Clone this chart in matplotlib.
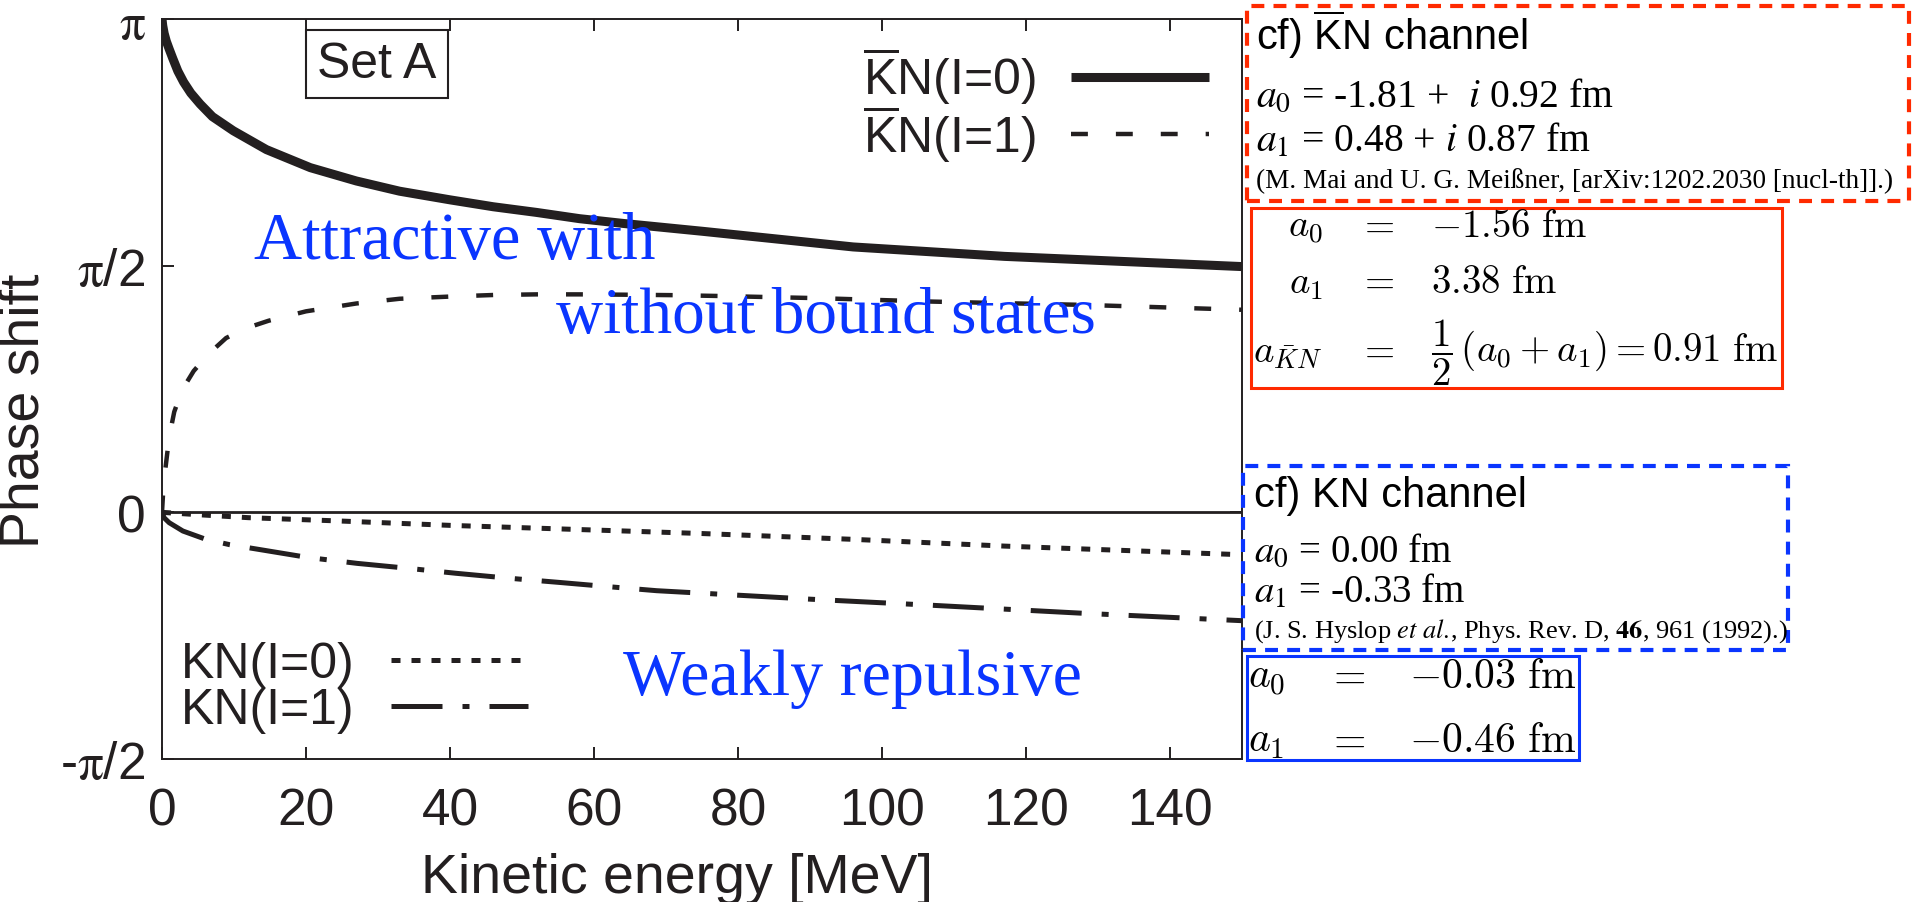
import numpy as np
import matplotlib
matplotlib.use("Agg")
import matplotlib.pyplot as plt
from matplotlib.patches import Rectangle
from matplotlib.font_manager import FontProperties

plt.rcParams['font.family'] = ['Liberation Sans', 'DejaVu Sans']
plt.rcParams['mathtext.fontset'] = 'stix'
# "custom" math font = Liberation Sans, used for the overlined K
plt.rcParams['mathtext.rm'] = 'Liberation Sans'
plt.rcParams['mathtext.it'] = 'Liberation Sans:italic'
plt.rcParams['mathtext.bf'] = 'Liberation Sans:bold'

# phase shifts (Set A)
E_kbar0 = [0, 0.1, 0.3, 0.6, 1.0, 1.5, 2.2, 3, 4, 5.3, 7, 9.9, 14.5, 20.6, 27, 33, 40, 46, 52, 58, 64, 75, 96, 117, 150]
ph_kbar0 = [3.1416, 3.10, 3.05, 3.00, 2.95, 2.89, 2.81, 2.74, 2.67, 2.60, 2.52, 2.43, 2.31, 2.195, 2.11, 2.045, 1.99, 1.946, 1.91, 1.87, 1.84, 1.79, 1.69, 1.63, 1.565]

E_kbar1 = [0, 0.15, 0.4, 1.0, 1.7, 2.8, 4.4, 6.5, 8.9, 11.5, 14.8, 20, 27, 33, 40, 46, 52, 58, 64, 71, 77, 91, 107, 128, 150]
ph_kbar1 = [0, 0.12, 0.25, 0.48, 0.64, 0.78, 0.90, 1.01, 1.11, 1.17, 1.22, 1.28, 1.33, 1.36, 1.374, 1.384, 1.388, 1.388, 1.386, 1.383, 1.378, 1.364, 1.342, 1.321, 1.29]

E_kn0 = [0, 5, 12, 24.6, 40, 65, 75, 96, 117, 150]
ph_kn0 = [0, -0.015, -0.034, -0.055, -0.083, -0.12, -0.135, -0.172, -0.215, -0.27]

E_kn1 = [0, 0.3, 1, 2.9, 6.1, 9.4, 12.9, 20.2, 27.1, 34.3, 40.8, 48.3, 55.1, 61.9, 68.7, 75, 90, 107, 128, 150]
ph_kn1 = [0, -0.035, -0.066, -0.119, -0.172, -0.206, -0.232, -0.287, -0.325, -0.357, -0.388, -0.42, -0.446, -0.473, -0.499, -0.515, -0.553, -0.592, -0.643, -0.69]

labels = [r'$\overline{\mathrm{K}}$N(I=0)', r'$\overline{\mathrm{K}}$N(I=1)', 'KN(I=0)', 'KN(I=1)']
xticks = [0, 20, 40, 60, 80, 100, 120, 140]
yticks = [-np.pi / 2, 0, np.pi / 2, np.pi]
yticklabels = [r'-$\mathrm{\pi}$/2', '0', r'$\mathrm{\pi}$/2', r'$\mathrm{\pi}$']

ink = '#231f20'
red = '#ff2a00'
blue = '#0a35ff'

W, H = 1915, 903
fig = plt.figure(figsize=(W / 100, H / 100), dpi=100)
ax = fig.add_axes([162 / W, 1 - 760 / H, 1080 / W, 740 / H])


def fx(x):
    return x / W


def fy(y):
    return 1 - y / H


l0, = ax.plot(E_kbar0, ph_kbar0, color=ink, lw=6.5, solid_capstyle='butt', solid_joinstyle='round')
l1, = ax.plot(E_kbar1, ph_kbar1, color=ink, lw=3.2, dashes=(3.8, 6.3))
l2, = ax.plot(E_kn0, ph_kn0, color=ink, lw=3.6, dashes=(1.8, 2.2))
l3, = ax.plot(E_kn1, ph_kn1, color=ink, lw=3.6, dashes=(10.2, 4, 1.4, 4))
ax.axhline(0, color=ink, lw=2)

ax.set_xlim(0, 150)
ax.set_ylim(-np.pi / 2, np.pi)
ax.set_xticks(xticks)
ax.set_yticks(yticks)
ax.set_yticklabels(yticklabels)
ax.tick_params(direction='in', length=8.6, width=1.4, top=True, right=True,
               labelsize=37, colors=ink)
ax.tick_params(axis='x', pad=20)
ax.tick_params(axis='y', pad=12)
for s in ax.spines.values():
    s.set_linewidth(1.4)
    s.set_color(ink)

ax.set_xlabel('Kinetic energy [MeV]', fontsize=40, color=ink)
ax.set_ylabel('Phase shift', fontsize=40, color=ink)
ax.xaxis.set_label_coords(0.477, -0.18)
ax.xaxis.label.set_va('baseline')
ax.yaxis.set_label_coords(-0.127, 0.472)
ax.yaxis.label.set_va('center')

legfont = FontProperties(family='Liberation Sans', size=36, math_fontfamily='custom')
leg1 = ax.legend([l0, l1], labels[:2], loc='upper right', bbox_to_anchor=(0.969, 0.965),
                 frameon=False, markerfirst=False, prop=legfont, handlelength=2.75,
                 handletextpad=0.72, labelspacing=-0.08, borderpad=0, borderaxespad=0,
                 labelcolor=ink)
ax.add_artist(leg1)
ax.legend([l2, l3], labels[2:], loc='lower left', bbox_to_anchor=(0.0176, 0.035),
          frameon=False, markerfirst=False, prop=legfont, handlelength=2.75,
          handletextpad=0.72, labelspacing=0.0, borderpad=0, borderaxespad=0,
          labelcolor=ink)

fig.text(fx(377), fy(65), 'Set A', fontsize=36, color=ink, ha='center', va='center',
         bbox=dict(boxstyle='square,pad=0.22', fc='white', ec=ink, lw=1.5))

serif = 'Liberation Serif'
fig.text(fx(254), fy(259), 'Attractive with', family=serif, fontsize=48, color=blue, va='baseline')
fig.text(fx(556), fy(333), 'without bound states', family=serif, fontsize=47, color=blue, va='baseline')
fig.text(fx(623), fy(695), 'Weakly repulsive', family=serif, fontsize=47.5, color=blue, va='baseline')

# boxes on the right
fig.add_artist(Rectangle((fx(1247), fy(202)), fx(1909) - fx(1247), fy(7) - fy(202),
                         transform=fig.transFigure, fill=False, ec=red, lw=3,
                         linestyle=(0, (3.1, 2.2))))
fig.add_artist(Rectangle((fx(1251), fy(389)), fx(1782) - fx(1251), fy(209) - fy(389),
                         transform=fig.transFigure, fill=False, ec=red, lw=2.2))
fig.add_artist(Rectangle((fx(1243), fy(651)), fx(1788) - fx(1243), fy(467) - fy(651),
                         transform=fig.transFigure, fill=False, ec=blue, lw=3,
                         linestyle=(0, (3.1, 2.2))))
fig.add_artist(Rectangle((fx(1247), fy(761)), fx(1579) - fx(1247), fy(657) - fy(761),
                         transform=fig.transFigure, fill=False, ec=blue, lw=2.2))

# red dashed box text
fig.text(fx(1256), fy(50), r'cf) $\overline{\mathrm{K}}$N channel', fontsize=30, color='black',
         va='baseline', math_fontfamily='custom')
fig.text(fx(1256), fy(107), r'$a_0$ = -1.81 +  $i$ 0.92 fm', family=serif, fontsize=28.5,
         color='black', va='baseline')
fig.text(fx(1256), fy(152), r'$a_1$ = 0.48 + $i$ 0.87 fm', family=serif, fontsize=28.5,
         color='black', va='baseline')
fig.text(fx(1256), fy(188), '(M. Mai and U. G. Mei\u00dfner, [arXiv:1202.2030 [nucl-th]].)',
         family=serif, fontsize=19.6, color='black', va='baseline')

# red solid box (eqnarray)
rows_red = [(237, r'$a_0$', r'$-1.56\ \mathrm{fm}$'),
            (293, r'$a_1$', r'$3.38\ \mathrm{fm}$'),
            (362, r'$a_{\bar{K}N}$', r'$\dfrac{1}{2}\,(a_0+a_1) = 0.91\ \mathrm{fm}$')]
for yb, lhs, rhs in rows_red:
    fig.text(fx(1323), fy(yb), lhs, fontsize=28, math_fontfamily='cm', ha='right', va='baseline')
    fig.text(fx(1376), fy(yb), r'$=$', fontsize=28, math_fontfamily='cm', ha='center', va='baseline')
    fig.text(fx(1431), fy(yb), rhs, fontsize=28, math_fontfamily='cm', ha='left', va='baseline')

# blue dashed box text
fig.text(fx(1254), fy(507), 'cf) KN channel', fontsize=30, color='black', va='baseline')
fig.text(fx(1254), fy(562), r'$a_0$ = 0.00 fm', family=serif, fontsize=28, va='baseline')
fig.text(fx(1254), fy(603), r'$a_1$ = -0.33 fm', family=serif, fontsize=28, va='baseline')
fig.text(fx(1254), fy(638), r'(J. S. Hyslop $\it{et\ al.}\!$, Phys. Rev. D, $\bf{46}$, 961 (1992).)',
         family=serif, fontsize=19, va='baseline')

# blue solid box
rows_blue = [(688, r'$a_0$', r'$-0.03\ \mathrm{fm}$'),
             (752, r'$a_1$', r'$-0.46\ \mathrm{fm}$')]
for yb, lhs, rhs in rows_blue:
    fig.text(fx(1248), fy(yb), lhs, fontsize=30, math_fontfamily='cm', ha='left', va='baseline')
    fig.text(fx(1346), fy(yb), r'$=$', fontsize=30, math_fontfamily='cm', ha='center', va='baseline')
    fig.text(fx(1409), fy(yb), rhs, fontsize=30, math_fontfamily='cm', ha='left', va='baseline')

fig.savefig('out.png', dpi=100)
